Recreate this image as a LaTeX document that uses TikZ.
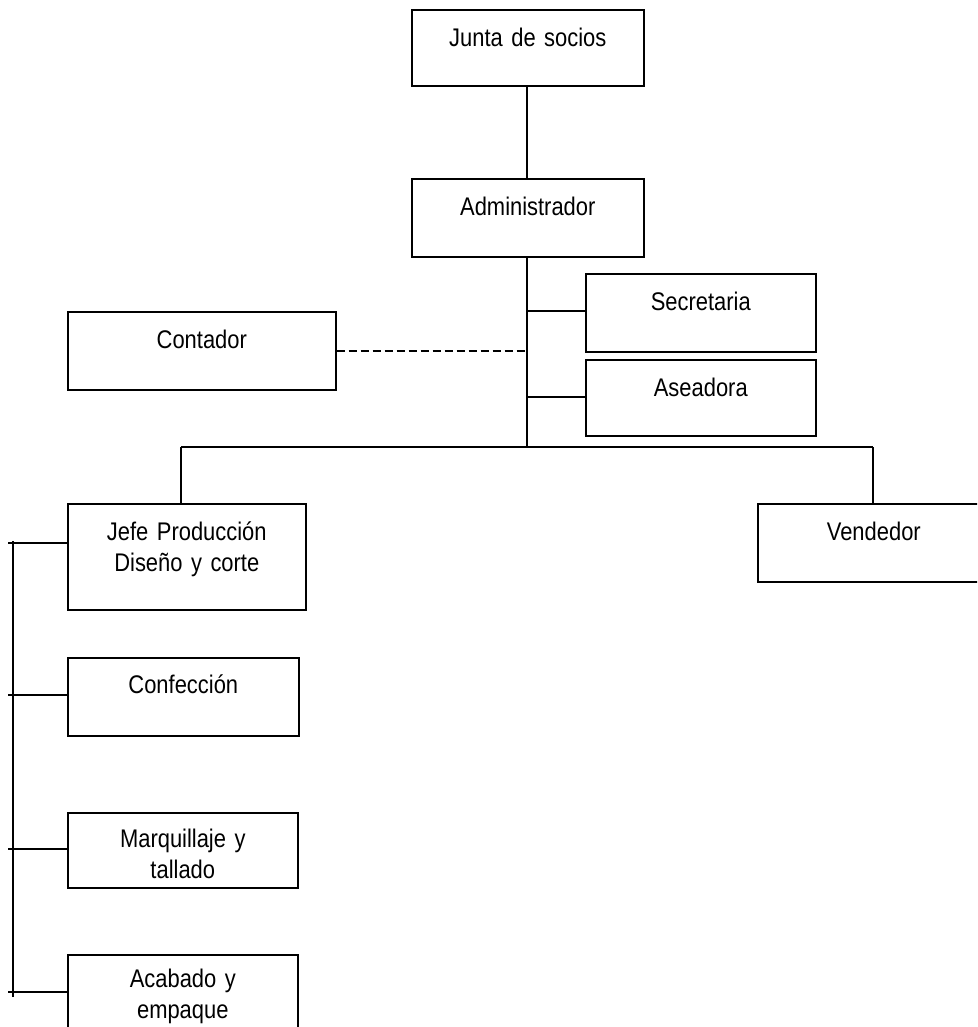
\documentclass[tikz,border=0pt]{standalone}
\usepackage{fontspec}
\setmainfont[FakeStretch=0.86, WordSpace=0.8]{Liberation Sans}
\usetikzlibrary{positioning, calc}

\tikzset{
  orgbox/.style={draw, line width=1.6pt, inner sep=0pt, text height=37pt,
                 align=center, anchor=north west},
  link/.style={line width=1.6pt},
  dashlink/.style={line width=1.6pt, dash pattern=on 8pt off 4pt},
}

\begin{document}
\begin{tikzpicture}[x=1pt, y=-1pt, font=\fontsize{25.5}{31}\selectfont]

  \useasboundingbox (0,0) rectangle (977,1027);
  \clip (0,0) rectangle (977,1027);

  % direction
  \node[orgbox, text width=232pt, text depth=39pt] (junta) at (411,9) {Junta de socios};
  \node[orgbox, text width=232pt, text depth=41pt] (admin) at (411,178) {Administrador};

  % staff beside the trunk
  \node[orgbox, text width=230pt, text depth=41pt] (secretaria) at (585,273) {Secretaria};
  \node[orgbox, text width=230pt, text depth=39pt] (aseadora) at (585,359) {Aseadora};
  \node[orgbox, text width=268pt, text depth=41pt] (contador) at (67,311) {Contador};

  % second level
  \node[orgbox, text width=238pt, text depth=69pt] (jefe) at (67,503) {Jefe Producción\\Diseño y corte};
  \node[orgbox, text width=232pt, text depth=41pt] (vendedor) at (757,503) {Vendedor};

  % production line
  \node[orgbox, text width=231pt, text depth=42pt, text height=36pt] (confeccion) at (67,657) {Confección};
  \node[orgbox, text width=230pt, text depth=40pt, text height=35pt] (marquillaje) at (67,812) {Marquillaje y\\tallado};
  \node[orgbox, text width=230pt, text depth=45pt, text height=33pt] (acabado) at (67,954) {Acabado y\\empaque};

  % trunk and taps
  \coordinate (bTrunk) at (527,447);
  \coordinate (tSec) at (527,311);
  \coordinate (tAse) at (527,397);
  \coordinate (tCont) at (527,351);
  \draw[link] (bTrunk |- junta.south) -- (bTrunk |- admin.north);
  \draw[link] (bTrunk |- admin.south) -- (bTrunk);
  \draw[link] (tSec) -- (tSec -| secretaria.west);
  \draw[link] (tAse) -- (tAse -| aseadora.west);
  \draw[dashlink] (contador.east |- tCont) -- (tCont);

  % bus to second level
  \coordinate (bJefe) at (181,447);
  \coordinate (bVend) at (873,447);
  \draw[link] (bJefe) -- (bVend);
  \draw[link] (bJefe) -- (bJefe |- jefe.north);
  \draw[link] (bVend) -- (bVend |- vendedor.north);

  % left spine
  \coordinate (spTop) at (13,541);
  \coordinate (spBot) at (13,997);
  \draw[link] (spTop) -- (spBot);
  \coordinate (tJefe) at (8,543);
  \coordinate (tConf) at (8,695);
  \coordinate (tMarq) at (8,849);
  \coordinate (tAcab) at (8,992);
  \draw[link] (tJefe) -- (tJefe -| jefe.west);
  \draw[link] (tConf) -- (tConf -| confeccion.west);
  \draw[link] (tMarq) -- (tMarq -| marquillaje.west);
  \draw[link] (tAcab) -- (tAcab -| acabado.west);

\end{tikzpicture}
\end{document}
